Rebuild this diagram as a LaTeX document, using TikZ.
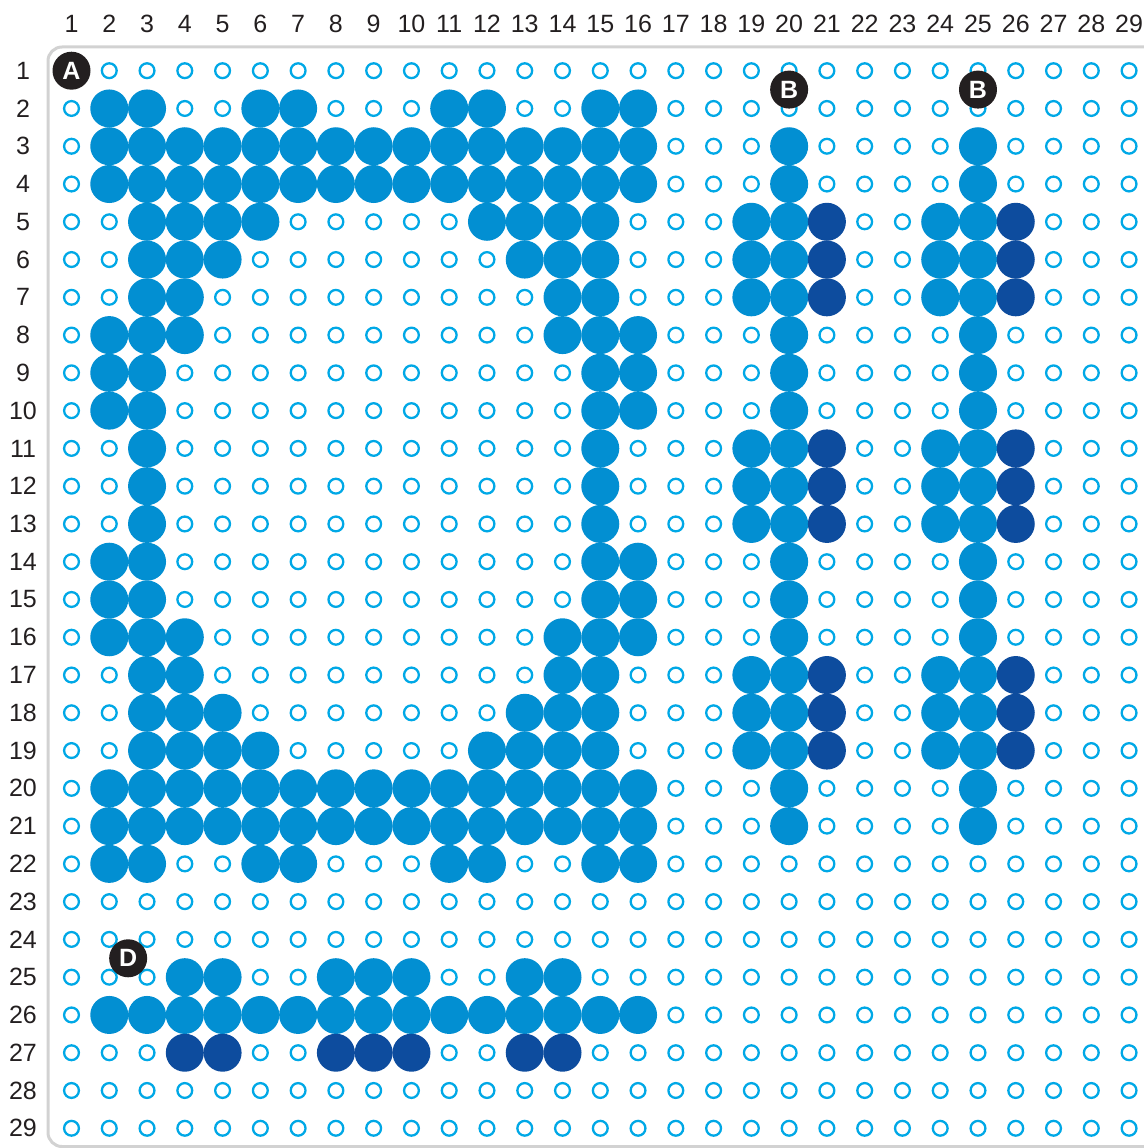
\documentclass[tikz,border=0pt]{standalone}
\usepackage{fontspec}
\setmainfont{Liberation Sans}
\definecolor{pegc}{HTML}{00A8E6}
\definecolor{beadc}{HTML}{028FD2}
\definecolor{darkc}{HTML}{0D4C9E}
\definecolor{inkc}{HTML}{231F20}
\definecolor{framec}{HTML}{D2D2D2}
\begin{document}
\begin{tikzpicture}[x=1pt,y=-1pt,
  peg/.style={draw=pegc, line width=2.3pt},
  bead/.style={fill=beadc},
  darkbead/.style={fill=darkc},
  numlabel/.style={text=inkc, font=\fontsize{25}{25}\selectfont, inner sep=0pt},
  badge/.style={circle, fill=inkc, text=white, minimum size=38pt, inner sep=0pt,
    font=\fontsize{25}{25}\selectfont\bfseries}]
\useasboundingbox (0,0) rectangle (1143,1148);
\def\gx#1{71.5+(#1-1)*37.77}
\def\gy#1{70.7+(#1-1)*37.77}
% frame
\draw[framec, line width=3pt, rounded corners=14pt] (48,47) rectangle (1220,1146.5);
% column and row numbers
\foreach \c in {1,...,29} {
  \node[numlabel] (col\c) at ({\gx{\c}},24) {\c};
  \node[numlabel] (row\c) at (23,{\gy{\c}}) {\c};
}
% pegs
\foreach \r in {1,...,29} {
  \foreach \c in {1,...,29} {
    \draw[peg] ({\gx{\c}},{\gy{\r}}) circle (7.4pt);
  }
}
% light beads
\foreach \r/\cs in {
  2/{2,3,6,7,11,12,15,16},
  3/{2,3,4,5,6,7,8,9,10,11,12,13,14,15,16,20,25},
  4/{2,3,4,5,6,7,8,9,10,11,12,13,14,15,16,20,25},
  5/{3,4,5,6,12,13,14,15,19,20,24,25},
  6/{3,4,5,13,14,15,19,20,24,25},
  7/{3,4,14,15,19,20,24,25},
  8/{2,3,4,14,15,16,20,25},
  9/{2,3,15,16,20,25},
  10/{2,3,15,16,20,25},
  11/{3,15,19,20,24,25},
  12/{3,15,19,20,24,25},
  13/{3,15,19,20,24,25},
  14/{2,3,15,16,20,25},
  15/{2,3,15,16,20,25},
  16/{2,3,4,14,15,16,20,25},
  17/{3,4,14,15,19,20,24,25},
  18/{3,4,5,13,14,15,19,20,24,25},
  19/{3,4,5,6,12,13,14,15,19,20,24,25},
  20/{2,3,4,5,6,7,8,9,10,11,12,13,14,15,16,20,25},
  21/{2,3,4,5,6,7,8,9,10,11,12,13,14,15,16,20,25},
  22/{2,3,6,7,11,12,15,16},
  25/{4,5,8,9,10,13,14},
  26/{2,3,4,5,6,7,8,9,10,11,12,13,14,15,16}} {
  \foreach \c in \cs {
    \fill[bead] ({\gx{\c}},{\gy{\r}}) circle (19pt);
  }
}
% dark beads
\foreach \r/\cs in {
  5/{21,26}, 6/{21,26}, 7/{21,26},
  11/{21,26}, 12/{21,26}, 13/{21,26},
  17/{21,26}, 18/{21,26}, 19/{21,26},
  27/{4,5,8,9,10,13,14}} {
  \foreach \c in \cs {
    \fill[darkbead] ({\gx{\c}},{\gy{\r}}) circle (19pt);
  }
}
% badges
\node[badge] (A) at ({\gx{1}},{\gy{1}}) {A};
\node[badge] (B1) at ({\gx{20}},{\gy{1.5}}) {B};
\node[badge] (B2) at ({\gx{25}},{\gy{1.5}}) {B};
\node[badge] (D) at ({\gx{2.5}},{\gy{24.5}}) {D};
\end{tikzpicture}
\end{document}
